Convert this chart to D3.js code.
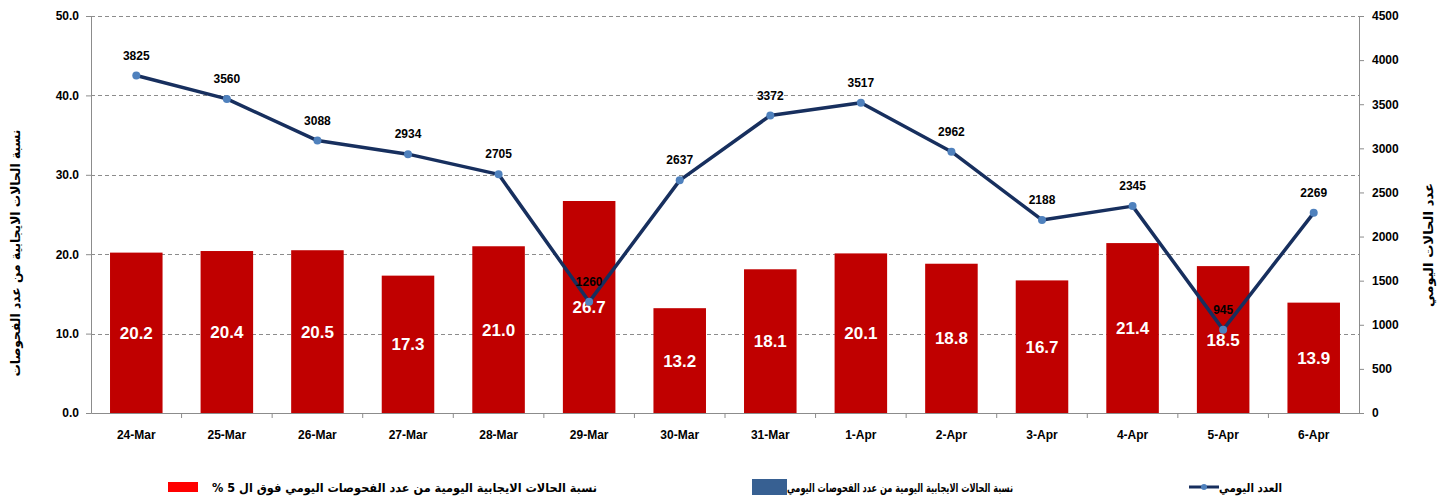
<!DOCTYPE html>
<html>
<head>
<meta charset="utf-8">
<script src="https://cdn.jsdelivr.net/npm/d3@7"></script>
<style>
body { margin: 0; background: #fff; }
svg text { font-family: "Liberation Sans Narrow", "Arial Narrow", "Liberation Sans", sans-serif; font-weight: bold; }
.ar { font-family: "DejaVu Sans", "Noto Sans", sans-serif; }
</style>
</head>
<body>
<svg id="svg"></svg>
<script>
var width = 1447, height = 500;

var dates = ["24-Mar", "25-Mar", "26-Mar", "27-Mar", "28-Mar", "29-Mar", "30-Mar",
	"31-Mar", "1-Apr", "2-Apr", "3-Apr", "4-Apr", "5-Apr", "6-Apr"];
var positiveRate = [20.2, 20.4, 20.5, 17.3, 21.0, 26.7, 13.2, 18.1, 20.1, 18.8, 16.7, 21.4, 18.5, 13.9];
var dailyCount = [3825, 3560, 3088, 2934, 2705, 1260, 2637, 3372, 3517, 2962, 2188, 2345, 945, 2269];
var leftTicks = [0, 10, 20, 30, 40, 50];
var rightTicks = [0, 500, 1000, 1500, 2000, 2500, 3000, 3500, 4000, 4500];

var leftTitle = "نسبة الحالات الايجابية من عدد الفحوصات";
var rightTitle = "عدد الحالات اليومي";
var legendRed = "نسبة الحالات الايجابية اليومية من عدد الفحوصات اليومي فوق ال 5 %";
var legendBlue = "نسبة الحالات الايجابية اليومية من عدد الفحوصات اليومي";
var legendLine = "العدد اليومي";

var svg = d3.select("#svg")
	.attr("width", width)
	.attr("height", height);

var plotLeft = 91, plotRight = 1359, plotTop = 16, plotBottom = 413;

var x = d3.scaleBand()
	.domain(dates)
	.range([plotLeft, plotRight])
	.paddingInner(0.42)
	.paddingOuter(0.21);

var y = d3.scaleLinear()
	.domain([0, 50])
	.range([plotBottom, plotTop]);

var y2 = d3.scaleLinear()
	.domain([0, 4500])
	.range([plotBottom, plotTop]);

// grid lines
svg.append("g")
	.selectAll("line")
	.data(leftTicks.slice(1))
	.enter()
	.append("line")
	.attr("x1", plotLeft)
	.attr("x2", plotRight)
	.attr("y1", function(d) { return Math.round(y(d)) + 0.5; })
	.attr("y2", function(d) { return Math.round(y(d)) + 0.5; })
	.attr("stroke", "#8c8c8c")
	.attr("stroke-width", 1)
	.attr("stroke-dasharray", "4,3");

// bars
svg.append("g")
	.selectAll("rect")
	.data(positiveRate)
	.enter()
	.append("rect")
	.attr("x", function(d, i) { return x(dates[i]); })
	.attr("y", function(d) { return y(d); })
	.attr("width", x.bandwidth())
	.attr("height", function(d) { return plotBottom - y(d); })
	.attr("fill", "#c00000");

// bar labels
svg.append("g")
	.selectAll("text")
	.data(positiveRate)
	.enter()
	.append("text")
	.attr("x", function(d, i) { return x(dates[i]) + x.bandwidth() / 2; })
	.attr("y", function(d) { return (y(d) + plotBottom) / 2 + 6; })
	.attr("text-anchor", "middle")
	.attr("fill", "#fff")
	.style("font-size", "17px")
	.text(function(d) { return d.toFixed(1); });

// axes
var xAxis = d3.axisBottom(x).tickSize(0).tickPadding(17);
var gx = svg.append("g")
	.attr("transform", "translate(0," + plotBottom + ")")
	.call(xAxis);
gx.select(".domain").attr("stroke", "#8c8c8c");
gx.selectAll("text").style("font-size", "12px").attr("fill", "#000");
// category separators
gx.selectAll(".sep")
	.data(dates.slice(1))
	.enter()
	.append("line")
	.attr("x1", function(d) { return x(d) - x.step() * x.paddingInner() / 2; })
	.attr("x2", function(d) { return x(d) - x.step() * x.paddingInner() / 2; })
	.attr("y1", 0)
	.attr("y2", 5)
	.attr("stroke", "#8c8c8c");

var yAxis = d3.axisLeft(y).tickValues(leftTicks).tickSize(5).tickPadding(7).tickFormat(d3.format(".1f"));
var gy = svg.append("g")
	.attr("transform", "translate(" + plotLeft + ",0)")
	.call(yAxis);
gy.select(".domain").attr("stroke", "#8c8c8c");
gy.selectAll("line").attr("stroke", "#8c8c8c");
gy.selectAll("text").style("font-size", "12px").attr("fill", "#000");

var y2Axis = d3.axisRight(y2).tickValues(rightTicks).tickSize(5).tickPadding(8).tickFormat(d3.format("d"));
var gy2 = svg.append("g")
	.attr("transform", "translate(" + plotRight + ",0)")
	.call(y2Axis);
gy2.select(".domain").attr("stroke", "#8c8c8c");
gy2.selectAll("line").attr("stroke", "#8c8c8c");
gy2.selectAll("text").style("font-size", "12px").attr("fill", "#000");

// line
var line = d3.line()
	.x(function(d, i) { return x(dates[i]) + x.bandwidth() / 2; })
	.y(function(d) { return y2(d); });

svg.append("path")
	.datum(dailyCount)
	.attr("d", line)
	.attr("fill", "none")
	.attr("stroke", "#172f5e")
	.attr("stroke-width", 3.5)
	.attr("stroke-linejoin", "round");

svg.append("g")
	.selectAll("circle")
	.data(dailyCount)
	.enter()
	.append("circle")
	.attr("cx", function(d, i) { return x(dates[i]) + x.bandwidth() / 2; })
	.attr("cy", function(d) { return y2(d); })
	.attr("r", 4)
	.attr("fill", "#4f81bd");

svg.append("g")
	.selectAll("text")
	.data(dailyCount)
	.enter()
	.append("text")
	.attr("x", function(d, i) { return x(dates[i]) + x.bandwidth() / 2; })
	.attr("y", function(d) { return y2(d) - 16; })
	.attr("text-anchor", "middle")
	.attr("fill", "#000")
	.style("font-size", "12px")
	.text(function(d) { return d; });

// axis titles
svg.append("text")
	.attr("class", "ar")
	.attr("transform", "translate(20,253) rotate(-90)")
	.attr("text-anchor", "middle")
	.attr("direction", "rtl")
	.attr("textLength", 247)
	.attr("lengthAdjust", "spacingAndGlyphs")
	.style("font-size", "13px")
	.text(leftTitle);

svg.append("text")
	.attr("class", "ar")
	.attr("transform", "translate(1433,245) rotate(-90)")
	.attr("text-anchor", "middle")
	.attr("direction", "rtl")
	.attr("textLength", 124)
	.attr("lengthAdjust", "spacingAndGlyphs")
	.style("font-size", "13px")
	.text(rightTitle);

// legend
var lg = svg.append("g");
lg.append("rect").attr("x", 168).attr("y", 482).attr("width", 30).attr("height", 10).attr("fill", "#ff0000");
lg.append("text").attr("class", "ar")
	.attr("x", 597).attr("y", 492)
	.attr("direction", "rtl")
	.attr("text-anchor", "start")
	.attr("textLength", 385)
	.attr("lengthAdjust", "spacingAndGlyphs")
	.style("font-size", "12px")
	.text(legendRed);

lg.append("rect").attr("x", 752).attr("y", 479).attr("width", 35).attr("height", 16).attr("fill", "#376092");
lg.append("text").attr("class", "ar")
	.attr("x", 1013).attr("y", 492)
	.attr("direction", "rtl")
	.attr("text-anchor", "start")
	.attr("textLength", 226)
	.attr("lengthAdjust", "spacingAndGlyphs")
	.style("font-size", "12px")
	.text(legendBlue);

lg.append("line").attr("x1", 1189).attr("x2", 1219).attr("y1", 487).attr("y2", 487)
	.attr("stroke", "#172f5e").attr("stroke-width", 3);
lg.append("circle").attr("cx", 1204).attr("cy", 487).attr("r", 3).attr("fill", "#4f81bd");
lg.append("text").attr("class", "ar")
	.attr("x", 1282).attr("y", 492)
	.attr("direction", "rtl")
	.attr("text-anchor", "start")
	.attr("textLength", 63)
	.attr("lengthAdjust", "spacingAndGlyphs")
	.style("font-size", "12px")
	.text(legendLine);
</script>
</body>
</html>
